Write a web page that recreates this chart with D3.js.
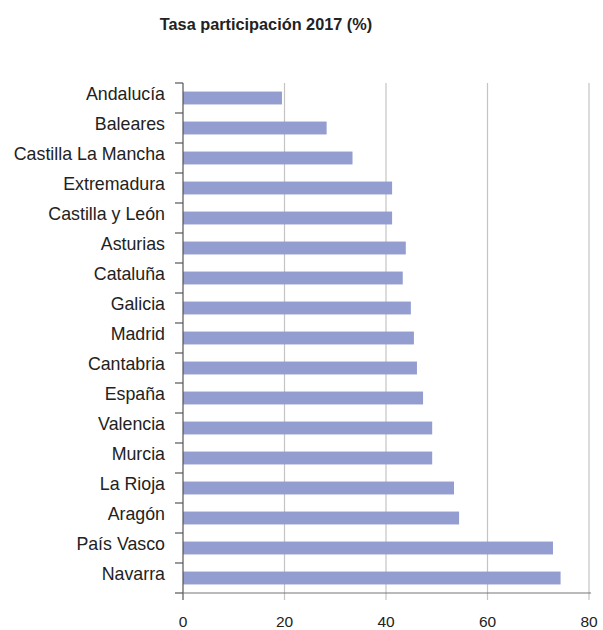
<!DOCTYPE html>
<html><head><meta charset="utf-8">
<script src="https://cdn.jsdelivr.net/npm/d3@7"></script>
<style>body{margin:0;background:#fff;} text{font-family:"Liberation Sans",Arial,Helvetica,sans-serif;}</style>
</head><body><svg id="c" width="603" height="630"></svg>
<script>
const categories = ["Andalucía","Baleares","Castilla La Mancha","Extremadura","Castilla y León","Asturias","Cataluña","Galicia","Madrid","Cantabria","España","Valencia","Murcia","La Rioja","Aragón","País Vasco","Navarra"];
const values = [19.5,28.3,33.4,41.2,41.2,43.9,43.3,44.9,45.5,46.1,47.3,49.1,49.1,53.4,54.4,72.9,74.4];
const xTicks = [0,20,40,60,80];
const title = "Tasa participación 2017 (%)";

(function(){
const svg = d3.select("#c");
const mL = 183, mR = 589, mT = 83, mB = 593;
const x = d3.scaleLinear().domain([0,80]).range([mL,mR]);
const y = d3.scaleBand().domain(categories).range([mT,mB]).paddingInner(0.57).paddingOuter(0.285);

svg.append("text").attr("x",266).attr("y",29.5).attr("text-anchor","middle")
  .attr("font-size",16.3).attr("font-weight","bold").attr("fill","#222").text(title);

// grid
svg.append("g").selectAll("line").data(xTicks.filter(d=>d>0)).join("line")
  .attr("x1",d=>x(d)).attr("x2",d=>x(d)).attr("y1",mT).attr("y2",mB+7)
  .attr("stroke","#c4c4c4").attr("stroke-width",1.2);

// bars
svg.append("g").selectAll("rect").data(values).join("rect")
  .attr("x",x(0)).attr("y",(d,i)=>y(categories[i]))
  .attr("width",d=>x(d)-x(0)).attr("height",y.bandwidth())
  .attr("fill","#939dcf");

// left axis
const yb = d3.scaleLinear().domain([0,categories.length]).range([mT,mB]);
const g = svg.append("g");
g.append("line").attr("x1",mL).attr("x2",mL).attr("y1",mT).attr("y2",mB+7).attr("stroke","#555").attr("stroke-width",1.2);
g.selectAll("line.t").data(d3.range(categories.length+1)).join("line").attr("class","t")
  .attr("x1",mL-8).attr("x2",mL).attr("y1",d=>yb(d)).attr("y2",d=>yb(d)).attr("stroke","#555").attr("stroke-width",1.2);
g.selectAll("text").data(categories).join("text")
  .attr("x",165).attr("y",d=>y(d)+y.bandwidth()/2+2)
  .attr("text-anchor","end").attr("font-size",17.8).attr("fill","#222").text(d=>d);

// bottom axis
svg.append("line").attr("x1",mL).attr("x2",x(80)+2).attr("y1",mB).attr("y2",mB).attr("stroke","#777").attr("stroke-width",1.2);
svg.append("g").selectAll("text").data(xTicks).join("text")
  .attr("x",d=>x(d)).attr("y",627).attr("text-anchor","middle")
  .attr("font-size",15.5).attr("fill","#222").text(d=>d);
})();
</script></body></html>
